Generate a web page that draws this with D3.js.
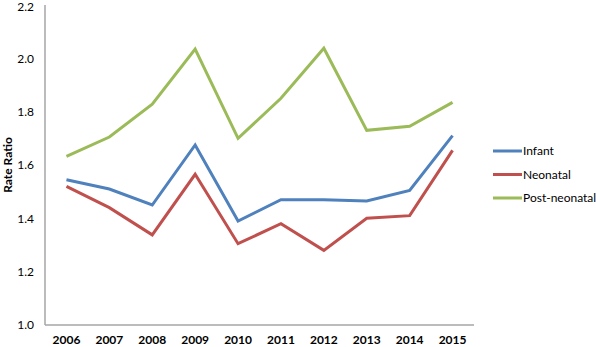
<!DOCTYPE html>
<html>
<head>
<meta charset="utf-8">
<script src="https://cdn.jsdelivr.net/npm/d3@7"></script>
<style>
  body { margin: 0; background: #fff; }
  svg text { font-family: Lato, "Open Sans", sans-serif; fill: #000; }
  .tick-y text { font-size: 12px; }
  .tick-x text { font-size: 12px; font-weight: bold; }
  .legend text { font-size: 12px; }
</style>
</head>
<body>
<svg id="chart" width="596" height="347"></svg>
<script>
// chart data
const years = ["2006", "2007", "2008", "2009", "2010", "2011", "2012", "2013", "2014", "2015"];
const infant = [1.545, 1.51, 1.45, 1.675, 1.39, 1.47, 1.47, 1.465, 1.505, 1.71];
const neonatal = [1.52, 1.44, 1.338, 1.565, 1.305, 1.38, 1.28, 1.40, 1.41, 1.655];
const postNeonatal = [1.632, 1.705, 1.828, 2.035, 1.70, 1.85, 2.038, 1.73, 1.745, 1.835];
const yTicks = [1.0, 1.2, 1.4, 1.6, 1.8, 2.0, 2.2];

const seriesNames = ["Infant", "Neonatal", "Post-neonatal"];
const seriesColors = ["#4f81bd", "#c0504d", "#9bbb59"];
const seriesValues = [infant, neonatal, postNeonatal];

const svg = d3.select("#chart");
const plot = { left: 45, right: 474, top: 5, bottom: 325 };

const x = d3.scaleBand().domain(years).range([plot.left, plot.right]);
const y = d3.scaleLinear().domain([1.0, 2.2]).range([plot.bottom, plot.top]);

/* ---------- axes ---------- */
svg.append("line")
  .attr("x1", plot.left).attr("x2", plot.left)
  .attr("y1", y(2.2)).attr("y2", plot.bottom)
  .attr("stroke", "#a6a6a6").attr("stroke-width", 1.5);
svg.append("line")
  .attr("x1", plot.left).attr("x2", plot.right)
  .attr("y1", plot.bottom).attr("y2", plot.bottom)
  .attr("stroke", "#a6a6a6").attr("stroke-width", 1.5);

// top label sits right at the edge, nudge it in a little
svg.append("g").attr("class", "tick-y")
  .selectAll("text").data(yTicks).join("text")
  .attr("x", 34).attr("y", d => Math.max(y(d), 7)).attr("dy", "0.35em")
  .attr("text-anchor", "end")
  .text(d => d.toFixed(1));

svg.append("g").attr("class", "tick-x")
  .selectAll("text").data(years).join("text")
  .attr("x", d => x(d) + x.bandwidth() / 2).attr("y", 340).attr("dy", "0.35em")
  .attr("text-anchor", "middle")
  .text(d => d);

svg.append("text")
  .attr("transform", `translate(12,${(plot.top + plot.bottom) / 2}) rotate(-90)`)
  .attr("text-anchor", "middle")
  .attr("font-size", 12).attr("font-weight", "bold")
  .text("Rate Ratio");

/* ---------- lines ---------- */
const line = d3.line()
  .x((d, i) => x(years[i]) + x.bandwidth() / 2)
  .y(d => y(d));

svg.append("g").selectAll("path").data(seriesValues).join("path")
  .attr("d", line)
  .attr("fill", "none")
  .attr("stroke", (d, i) => seriesColors[i])
  .attr("stroke-width", 3)
  .attr("stroke-linejoin", "miter");

/* ---------- legend ---------- */
const legend = svg.append("g").attr("class", "legend")
  .selectAll("g").data(seriesNames).join("g")
  .attr("transform", (d, i) => `translate(493,${151 + i * 23.5})`);

legend.append("line")
  .attr("x1", 0).attr("x2", 29)
  .attr("stroke", (d, i) => seriesColors[i])
  .attr("stroke-width", 3);

legend.append("text")
  .attr("x", 30).attr("dy", "0.35em")
  .text(d => d);
</script>
</body>
</html>
